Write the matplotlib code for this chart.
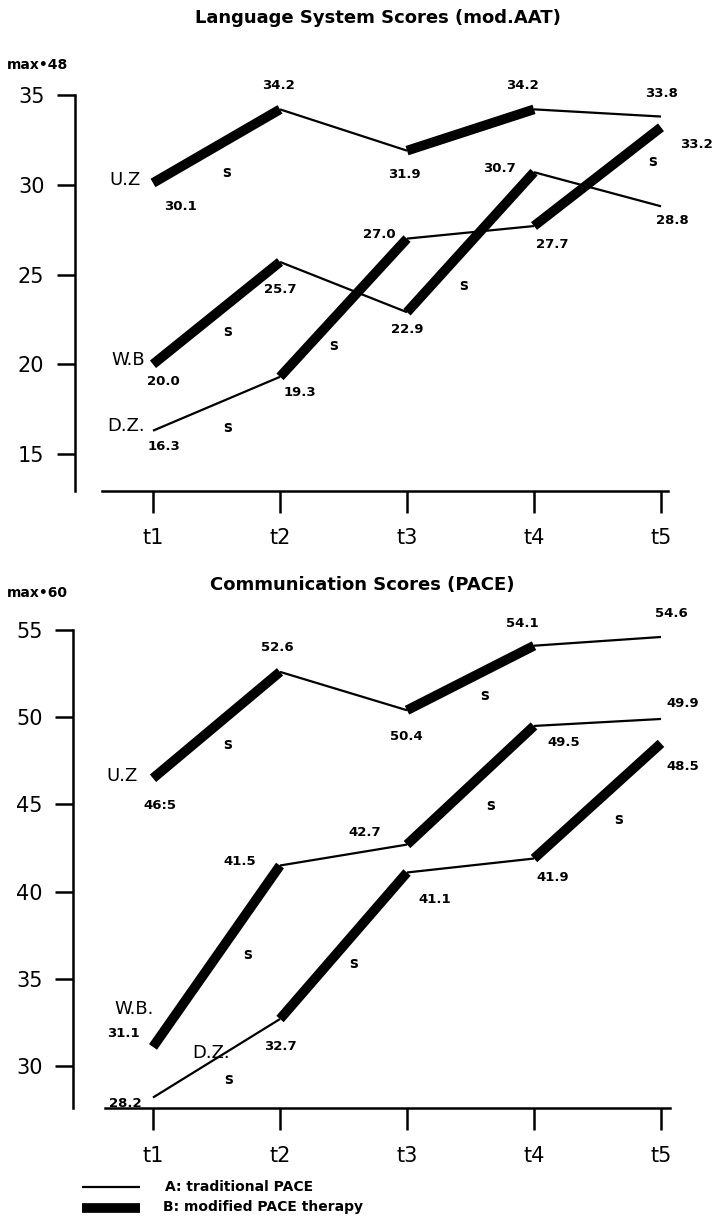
import matplotlib.pyplot as plt
from matplotlib.lines import Line2D

plt.rcParams["font.family"] = ["DejaVu Sans"]

# time points
times = ["t1", "t2", "t3", "t4", "t5"]
patients = ["U.Z", "W.B", "D.Z."]

# language system scores (mod. AAT), max = 48
lang_uz = [30.1, 34.2, 31.9, 34.2, 33.8]
lang_wb = [20.0, 25.7, 22.9, 30.7, 28.8]
lang_dz = [16.3, 19.3, 27.0, 27.7, 33.2]

# communication scores (PACE), max = 60
pace_uz = [46.5, 52.6, 50.4, 54.1, 54.6]
pace_wb = [31.1, 41.5, 42.7, 49.5, 49.9]
pace_dz = [28.2, 32.7, 41.1, 41.9, 48.5]

# therapy given between consecutive time points (A traditional, B modified)
therapy_uz = ["B", "A", "B", "A"]
therapy_wb = ["B", "A", "B", "A"]
therapy_dz = ["A", "B", "A", "B"]

# which segments were significant ("s"), per patient
lang_sig = {"U.Z": [0], "W.B": [0, 2], "D.Z.": [0, 1, 3]}
pace_sig = {"U.Z": [0, 2], "W.B": [0, 2], "D.Z.": [0, 1, 3]}

LW = {"A": 1.6, "B": 7.0}

# label placement (pixel offsets: dx right, dy down)
lang_val_off = {
    "U.Z": [(27, 24), (-2, -24), (-3, 24), (-12, -24), (0, -23)],
    "W.B": [(10, 17), (0, 28), (0, 17), (-35, -4), (11, 14)],
    "D.Z.": [(11, 16), (20, 16), (-28, -4), (18, 18), (35, 17)],
}
pace_val_off = {
    "U.Z": [(7, 27), (-3, -24), (-1, 26), (-12, -22), (10, -23)],
    "W.B": [(-30, -13), (-40, -4), (-42, -12), (30, 17), (22, -15)],
    "D.Z.": [(-28, 6), (0, 27), (28, 27), (19, 19), (22, 23)],
}
lang_sig_off = {
    ("U.Z", 0): (10, 26), ("W.B", 0): (11, 18), ("D.Z.", 0): (11, 24),
    ("D.Z.", 1): (-10, 38), ("W.B", 2): (-7, 43), ("D.Z.", 3): (55, -15),
}
pace_sig_off = {
    ("U.Z", 0): (11, 19), ("U.Z", 2): (14, 18), ("W.B", 2): (20, 20),
    ("D.Z.", 3): (21, 19), ("W.B", 0): (31, -2), ("D.Z.", 1): (10, 18),
    ("D.Z.", 0): (12, 21),
}
lang_name = {"U.Z": ("U.Z", -12, -3, "right"), "W.B": ("W.B", -8, -4, "right"),
             "D.Z.": ("D.Z.", -8, -5, "right")}
pace_name = {"U.Z": ("U.Z", -15, -2, "right"), "W.B": ("W.B.", -19, -38, "center"),
             "D.Z.": ("D.Z.", 58, -45, "center")}

W, H = 712, 1225
fig = plt.figure(figsize=(W / 100, H / 100), dpi=100)


def rect(left, right, top, bottom):
    return [left / W, 1 - bottom / H, (right - left) / W, (bottom - top) / H]


def panel(ax, series, therapy, sig, val_off, sig_off, names, yticks, ylim, xbounds,
          overrides=None):
    overrides = overrides or {}
    x = list(range(1, len(times) + 1))
    for p, vals in zip(patients, series):
        for i, kind in enumerate(therapy[p]):
            ax.plot(x[i:i + 2], vals[i:i + 2], color="black", lw=LW[kind],
                    solid_capstyle="butt", solid_joinstyle="miter", clip_on=False)
        for i, v in enumerate(vals):
            dx, dy = val_off[p][i]
            txt = overrides.get((p, i), f"{v:.1f}")
            ax.annotate(txt, (x[i], v), xytext=(dx, -dy), textcoords="offset pixels",
                        ha="center", va="center", fontsize=9.5, fontweight="bold",
                        annotation_clip=False)
        for i in sig[p]:
            dx, dy = sig_off[(p, i)]
            mx = (x[i] + x[i + 1]) / 2
            my = (vals[i] + vals[i + 1]) / 2
            ax.annotate("s", (mx, my), xytext=(dx, -dy), textcoords="offset pixels",
                        ha="center", va="center", fontsize=10.5, fontweight="bold",
                        annotation_clip=False)
        label, dx, dy, ha = names[p]
        ax.annotate(label, (x[0], vals[0]), xytext=(dx, -dy), textcoords="offset pixels",
                    ha=ha, va="center", fontsize=13, annotation_clip=False)

    ax.set_ylim(*ylim)
    ax.set_yticks(yticks)
    ax.set_xticks(x)
    ax.set_xticklabels(times)
    for s in ("top", "right"):
        ax.spines[s].set_visible(False)
    ax.spines["left"].set_bounds(*ylim)
    ax.spines["bottom"].set_bounds(*xbounds)
    for s in ("left", "bottom"):
        ax.spines[s].set_linewidth(1.8)
    ax.tick_params(axis="y", length=13, width=1.8, pad=9, labelsize=15)
    ax.tick_params(axis="x", length=16, width=1.8, pad=11, labelsize=15)
    ax.patch.set_visible(False)


# top panel: language system scores
ax1 = fig.add_axes(rect(75, 668, 95, 491))
ax1.set_xlim(1 + (75 - 153) / 127, 1 + (668 - 153) / 127)
panel(ax1, [lang_uz, lang_wb, lang_dz],
      {"U.Z": therapy_uz, "W.B": therapy_wb, "D.Z.": therapy_dz},
      lang_sig, lang_val_off, lang_sig_off, lang_name,
      [15, 20, 25, 30, 35], (12.94, 35), (1 + (102 - 153) / 127, 5.055))

# bottom panel: communication scores
ax2 = fig.add_axes(rect(73, 670, 630, 1108))
ax2.set_xlim(1 + (73 - 153) / 127, 1 + (670 - 153) / 127)
panel(ax2, [pace_uz, pace_wb, pace_dz],
      {"U.Z": therapy_uz, "W.B": therapy_wb, "D.Z.": therapy_dz},
      pace_sig, pace_val_off, pace_sig_off, pace_name,
      [30, 35, 40, 45, 50, 55], (27.6, 55), (1 + (105 - 153) / 127, 5.07),
      overrides={("U.Z", 0): "46:5"})

# titles and scale maxima
fig.text(378 / W, 1 - 18 / H, "Language System Scores (mod.AAT)", ha="center",
         va="center", fontsize=13, fontweight="bold")
fig.text(362 / W, 1 - 585 / H, "Communication Scores (PACE)", ha="center",
         va="center", fontsize=13, fontweight="bold")
fig.text(7 / W, 1 - 65 / H, "max•48", ha="left", va="center", fontsize=10,
         fontweight="bold")
fig.text(7 / W, 1 - 593 / H, "max•60", ha="left", va="center", fontsize=10,
         fontweight="bold")

# legend
fig.add_artist(Line2D([82 / W, 140 / W], [1 - 1187 / H] * 2, color="black",
                      lw=LW["A"], solid_capstyle="butt"))
fig.add_artist(Line2D([82 / W, 140 / W], [1 - 1208 / H] * 2, color="black",
                      lw=LW["B"], solid_capstyle="butt"))
fig.text(165 / W, 1 - 1187 / H, "A: traditional PACE", ha="left", va="center",
         fontsize=10, fontweight="bold")
fig.text(163 / W, 1 - 1207 / H, "B: modified PACE therapy", ha="left", va="center",
         fontsize=10, fontweight="bold")

fig.savefig("out.png", dpi=100)
